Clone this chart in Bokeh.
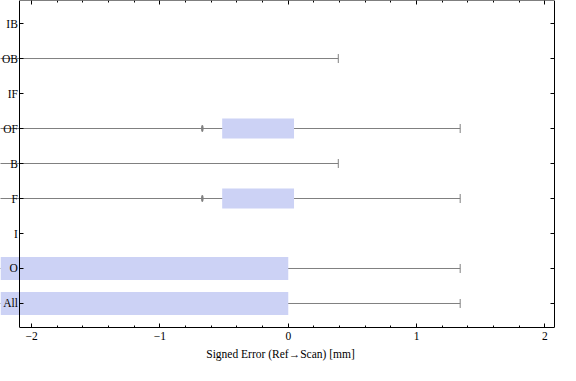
import math
from bokeh.plotting import figure
from bokeh.models import (Range1d, FixedTicker, SingleIntervalTicker, LinearAxis,
                          ColumnDataSource)
from bokeh.embed import file_html
from bokeh.resources import INLINE

nan = float("nan")

# ---- data (bottom row first) ----
categories = ["All", "O", "I", "F", "B", "OF", "IF", "OB", "IB"]
box_low = [-2.5, -2.5, nan, -0.515, nan, -0.515, nan, nan, nan]
box_high = [0.0, 0.0, nan, 0.045, nan, 0.045, nan, nan, nan]
whisker_low = [-2.5, -2.5, nan, -2.5, -2.5, -2.5, nan, -2.5, nan]
whisker_high = [1.34, 1.34, nan, 1.34, 0.39, 1.34, nan, 0.39, nan]
mean_value = [nan, nan, nan, -0.67, nan, -0.67, nan, nan, nan]
x_ticks = [-2, -1, 0, 1, 2]
x_tick_labels = ["\u22122", "\u22121", "0", "1", "2"]
x_label = "Signed Error (Ref\u2192Scan) [mm]"

# ---- style ----
BOX_FILL = "#ccd2f5"
LINE = "#808080"
FONT = "Liberation Serif"
FS = "11.5px"
X_START, X_END = -2.243, 2.122
Y_START, Y_END = 0.314, 9.658
LEFT_X, RIGHT_X = -2.092, 2.078
tall_rows = {"All", "O"}

ypos = list(range(1, len(categories) + 1))
box_height = [0.655 if c in tall_rows else 0.575 for c in categories]

src = ColumnDataSource(dict(
    y=ypos, cat=categories, blo=box_low, bhi=box_high, wlo=whisker_low,
    whi=whisker_high, mean=mean_value, h=box_height,
))

p = figure(width=560, height=365, x_range=Range1d(X_START, X_END),
           y_range=Range1d(Y_START, Y_END), output_backend="svg",
           toolbar_location=None, x_axis_location=None, y_axis_location=None,
           min_border_left=0, min_border_right=0, min_border_top=0,
           min_border_bottom=38)
p.outline_line_color = None
p.background_fill_color = "white"
p.border_fill_color = "white"
p.grid.visible = False

# whiskers
p.segment(x0="wlo", y0="y", x1="whi", y1="y", source=src, line_color=LINE,
          line_width=1)
# boxes
p.hbar(y="y", left="blo", right="bhi", height="h", source=src,
       fill_color=BOX_FILL, line_color=None)
# caps
p.scatter(x="whi", y="y", source=src, marker="dash", angle=math.pi / 2,
          size=9, line_color=LINE, line_width=1)
# mean markers
p.ellipse(x="mean", y="y", width=0.02, height=0.2, source=src,
          fill_color=LINE, line_color=None)


def style_axis(ax):
    ax.axis_line_color = "black"
    ax.axis_line_width = 1
    ax.major_tick_line_color = "black"
    ax.minor_tick_line_color = "black"
    ax.major_tick_in = 4
    ax.major_tick_out = 0
    ax.minor_tick_in = 2
    ax.minor_tick_out = 0
    ax.major_label_text_font = FONT
    ax.major_label_text_font_size = FS
    ax.major_label_text_color = "black"


bottom = LinearAxis(ticker=SingleIntervalTicker(interval=1, num_minor_ticks=5),
                    bounds=(LEFT_X, RIGHT_X),
                    major_label_overrides={t: s for t, s in zip(x_ticks, x_tick_labels)})
style_axis(bottom)
bottom.major_label_standoff = 4
bottom.axis_label = x_label
bottom.axis_label_text_font = FONT
bottom.axis_label_text_font_size = FS
bottom.axis_label_text_font_style = "normal"
bottom.axis_label_text_color = "black"
bottom.axis_label_standoff = 5
p.add_layout(bottom, "below")

top = LinearAxis(ticker=SingleIntervalTicker(interval=1, num_minor_ticks=5),
                 bounds=(LEFT_X, RIGHT_X), fixed_location=Y_END - 0.004)
style_axis(top)
top.major_label_text_color = None
p.add_layout(top, "above")

left = LinearAxis(ticker=FixedTicker(ticks=ypos), bounds=(Y_START, Y_END),
                  fixed_location=LEFT_X,
                  major_label_overrides={y: c for y, c in zip(ypos, categories)})
style_axis(left)
left.major_label_standoff = 2
p.add_layout(left, "left")

right = LinearAxis(ticker=FixedTicker(ticks=ypos), bounds=(Y_START, Y_END),
                   fixed_location=RIGHT_X)
style_axis(right)
right.major_label_text_color = None
p.add_layout(right, "right")

open("out.html", "w").write(file_html(p, INLINE))
